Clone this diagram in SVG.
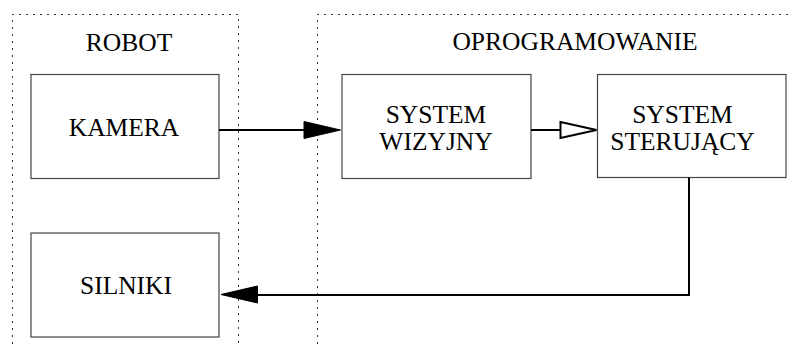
<svg xmlns="http://www.w3.org/2000/svg" width="793" height="344" viewBox="0 0 793 344">
  <style>
    .frame { fill: none; stroke: #333; stroke-width: 1; stroke-dasharray: 2 5; }
    .box { fill: #fff; stroke: #444; stroke-width: 1.2; }
    .lbl { font-family: "Liberation Serif", "Times New Roman", serif; font-size: 25.5px; fill: #000; text-anchor: middle; }
    .wire { fill: none; stroke: #000; stroke-width: 2; }
    .head { fill: #000; stroke: #000; stroke-width: 1; }
    .open { fill: #fff; stroke: #000; stroke-width: 2; }
  </style>

  <!-- subsystem frames -->
  <g id="frame-robot">
    <path class="frame" d="M12.5,344 V14.5 H238.5 V344"/>
    <text class="lbl" x="129" y="51">ROBOT</text>
  </g>
  <g id="frame-software">
    <path class="frame" d="M317.5,344 V14.5 H793"/>
    <text class="lbl" x="575" y="50">OPROGRAMOWANIE</text>
  </g>

  <!-- blocks -->
  <g id="kamera">
    <rect class="box" x="31" y="74.5" width="188" height="104"/>
    <text class="lbl" x="124" y="136">KAMERA</text>
  </g>
  <g id="system-wizyjny">
    <rect class="box" x="342" y="74.5" width="189" height="104"/>
    <text class="lbl" x="436" y="123">SYSTEM</text>
    <text class="lbl" x="436" y="149.5">WIZYJNY</text>
  </g>
  <g id="system-sterujacy">
    <rect class="box" x="597.5" y="74.5" width="188.5" height="103"/>
    <text class="lbl" x="682.5" y="123">SYSTEM</text>
    <text class="lbl" x="682.5" y="149.5">STERUJĄCY</text>
  </g>
  <g id="silniki">
    <rect class="box" x="31" y="233" width="188" height="104"/>
    <text class="lbl" x="126" y="294">SILNIKI</text>
  </g>

  <!-- connectors -->
  <g id="connectors">
    <line class="wire" x1="219" y1="130" x2="305" y2="130"/>
    <polygon class="head" points="304,121.5 340.5,130 304,138.5"/>

    <line class="wire" x1="531" y1="130" x2="560" y2="130"/>
    <polygon class="open" points="560.5,122 596.5,130 560.5,138"/>

    <polyline class="wire" points="689,177.5 689,295 256,295"/>
    <polygon class="head" points="257.5,286 221,294.5 257.5,303"/>
  </g>
</svg>
